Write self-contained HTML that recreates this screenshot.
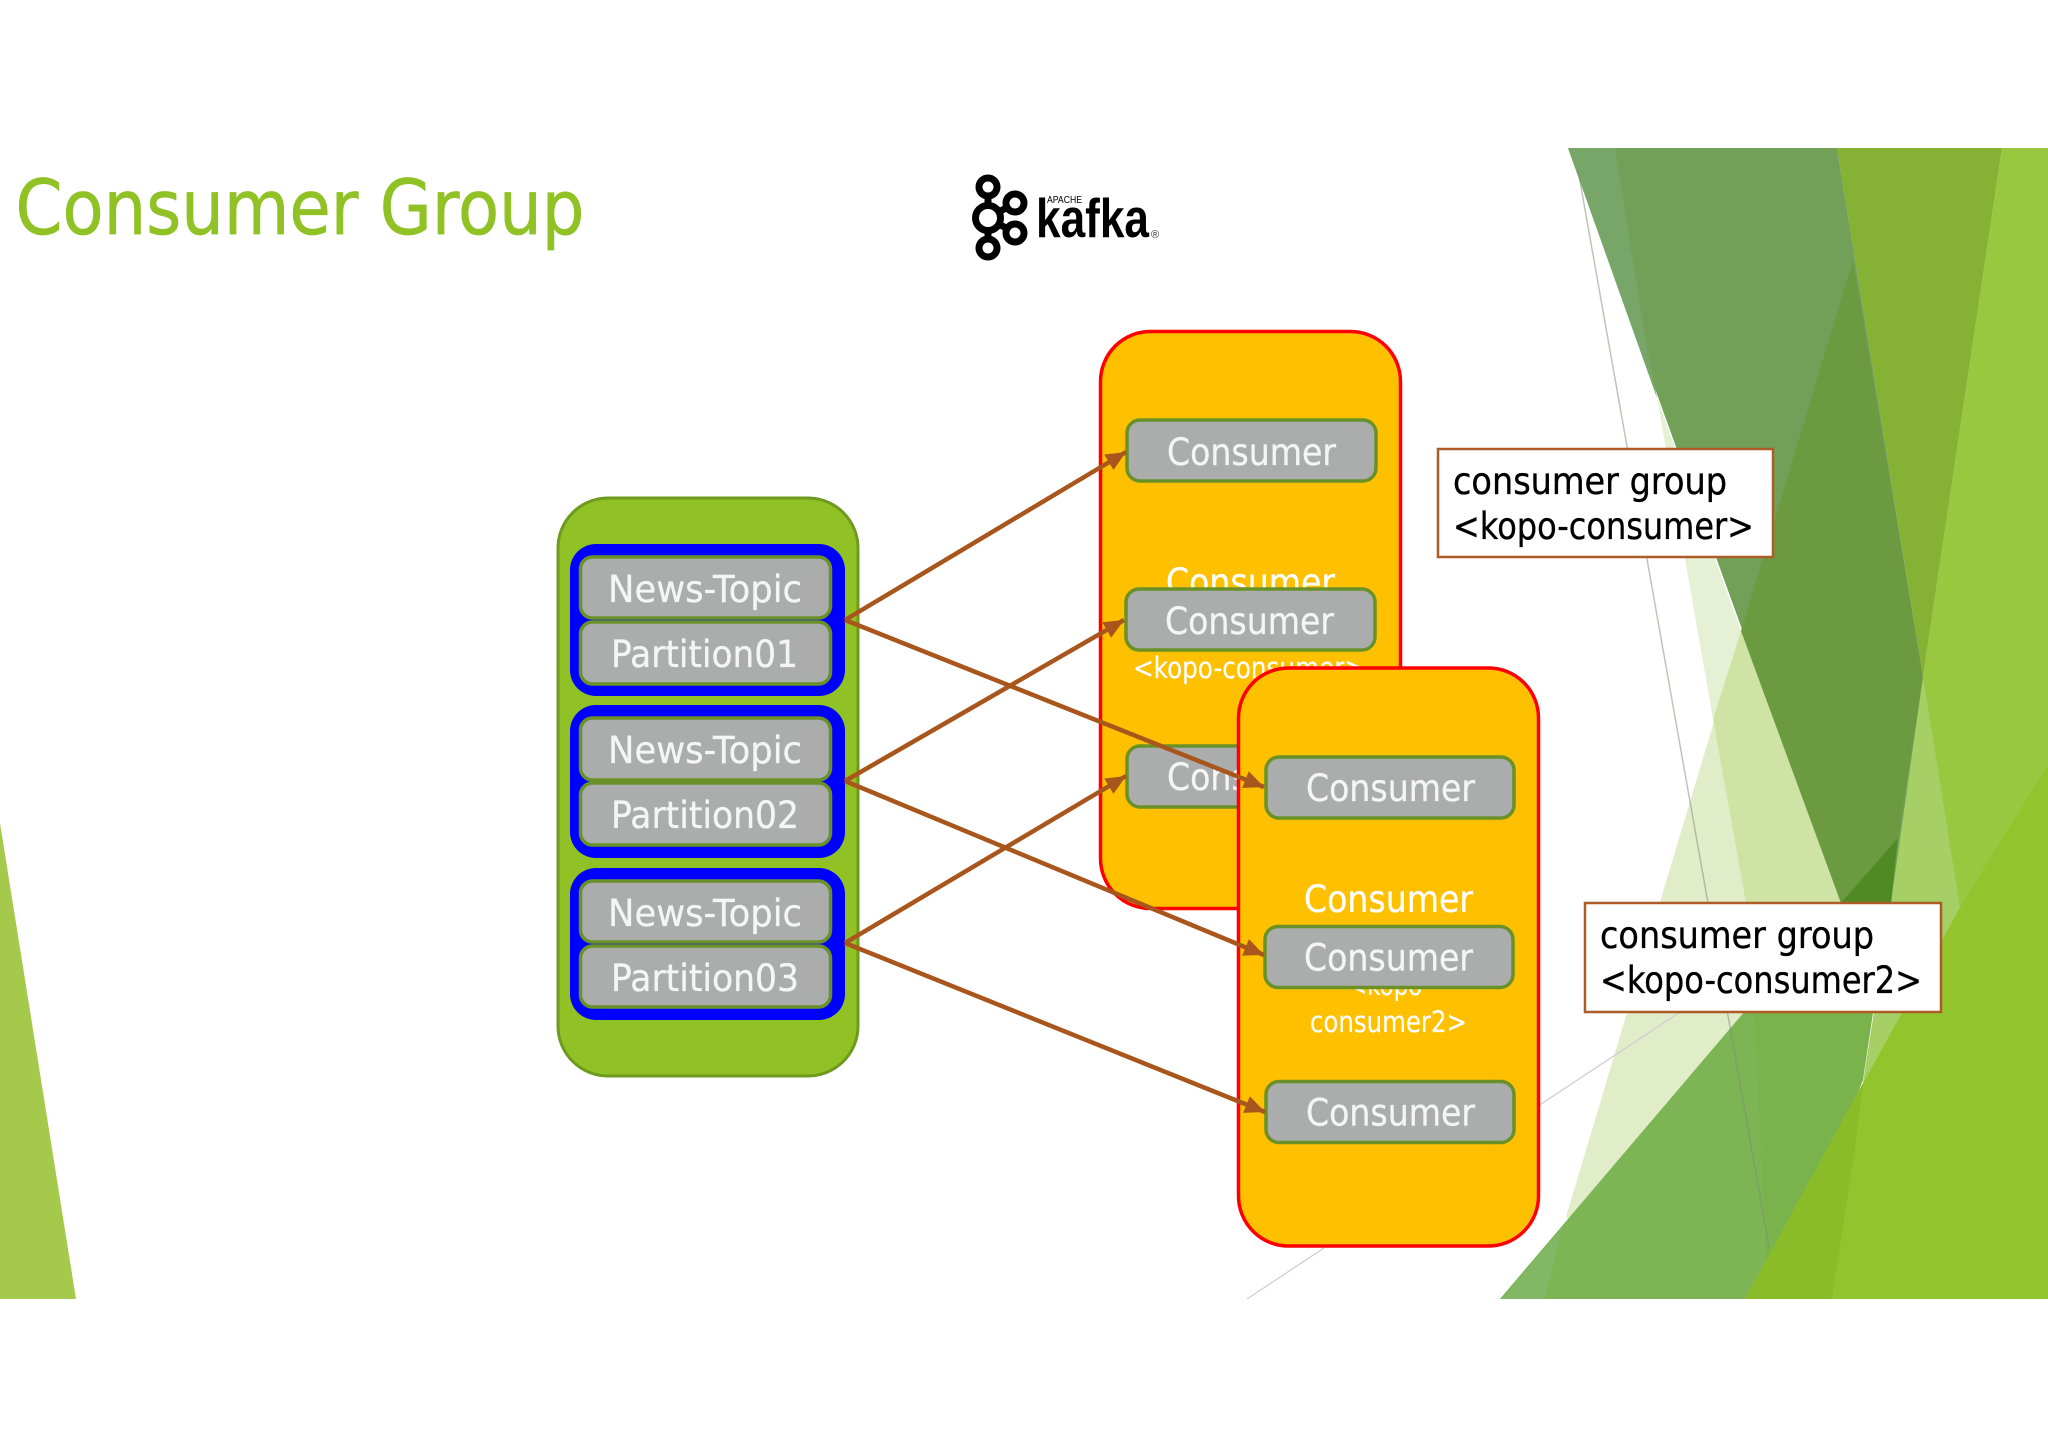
<!DOCTYPE html>
<html>
<head>
<meta charset="utf-8">
<title>Consumer Group</title>
<style>
html,body{margin:0;padding:0;background:#fff;width:2048px;height:1448px;overflow:hidden}
svg{display:block}
text{font-family:"DejaVu Sans","Liberation Sans",sans-serif}
.w{fill:#fff;font-size:37px;stroke:#fff;stroke-width:.3}
.wg{fill:#f4f5f4;font-size:37px;stroke:#f4f5f4;stroke-width:.3}
.s{fill:#fff;font-size:29px;stroke:#fff;stroke-width:.2}
.k{fill:#000;font-size:37px;stroke:#000;stroke-width:.35}
.g{fill:#abacac;stroke:#6a9128;stroke-width:3.5}
.o{fill:#ffc000;stroke:#f00;stroke-width:3.5}
.a{stroke:#a9561d;stroke-width:4.5;fill:none}
.l{fill:#fff;stroke:#ad5c27;stroke-width:2.5}
</style>
</head>
<body>
<svg width="2048" height="1448" viewBox="0 0 2048 1448" xmlns="http://www.w3.org/2000/svg">
<defs>
<marker id="h" markerUnits="userSpaceOnUse" markerWidth="22" markerHeight="20" refX="20" refY="9" orient="auto">
<path d="M0,0 L20,9 L0,18 Z" fill="#a9561d"/>
</marker>
</defs>
<rect width="2048" height="1448" fill="#fff"/>

<!-- background -->
<polygon points="0,823 0,1299 76,1299" fill="#a5c94b"/>
<polygon points="1657,398 1741,631 1713,719" fill="#e6f0d4"/>
<polygon points="1741,631 1848,920 1800,1030 1600,1250 1566,1217" fill="#e1ecc9"/>
<polygon points="1713,719 1741,631 1841,903 1746,903" fill="#cfe4a4"/>
<polygon points="1500,1299 1780,970 1885,970 1873,1013 1863,1080 1775,1299" fill="#7ab24c"/>
<polygon points="1500,1299 1780,970 1752,970 1768,1299" fill="#7db555"/>
<polygon points="1502,1299 1545,1299 1562,1228" fill="#82b865"/>
<polygon points="2002,148 2048,148 2048,780 1960,907 1863,1083 1891,903 1923,677" fill="#97c83f"/>
<polygon points="1745,1299 1863,1083 1960,907 2048,765 2048,1299" fill="#92c42e"/>
<polygon points="1745,1299 1863,1083 1855,1148 1832,1299" fill="#8abc2a"/>
<polygon points="1923,677 1960,907 1863,1083 1891,903" fill="#a6cf66"/>
<polygon points="1837,148 2002,148 1923,677" fill="#85b234"/>
<polygon points="1568,148 1837,148 1923,677 1891,903 1841,903" fill="#72a058"/>
<polygon points="1568,148 1615,148 1645,337 1657,398" fill="#78a668"/>
<polygon points="1853,260 1923,677 1898,838 1841,903 1741,631" fill="#6b9a40"/>
<polygon points="1898,838 1841,903 1891,903" fill="#4f8a25"/>
<line x1="1578" y1="170" x2="1769" y2="1247" stroke="#808a78" stroke-opacity=".5" stroke-width="1.5"/>
<line x1="1247" y1="1299" x2="1680" y2="1012" stroke="#cfcfcf" stroke-width="1.3"/>

<!-- title -->
<text x="15.5" y="234" font-size="76" fill="#90c226" stroke="#90c226" stroke-width=".7" textLength="569" lengthAdjust="spacingAndGlyphs">Consumer Group</text>

<!-- kafka logo -->
<g fill="none" stroke="#000" stroke-width="7">
<line x1="988" y1="187" x2="988" y2="248"/>
<line x1="988" y1="218" x2="1015" y2="203"/>
<line x1="988" y1="218" x2="1015" y2="233"/>
<circle cx="988" cy="187" r="9" fill="#fff"/>
<circle cx="988" cy="218" r="12.5" fill="#fff"/>
<circle cx="1015" cy="203" r="9" fill="#fff"/>
<circle cx="1015" cy="233" r="9" fill="#fff"/>
<circle cx="988" cy="248" r="9" fill="#fff"/>
</g>
<text x="1036" y="237" style="font-family:'Liberation Sans',sans-serif;font-weight:700" font-size="55" fill="#000" textLength="113" lengthAdjust="spacingAndGlyphs">kafka</text>
<text x="1047" y="203" style="font-family:'Liberation Sans',sans-serif" font-size="10" fill="#000" textLength="35" lengthAdjust="spacingAndGlyphs">APACHE</text>
<text x="1151" y="238" style="font-family:'Liberation Sans',sans-serif" font-size="11" fill="#333">®</text>

<!-- topic box -->
<rect x="558" y="498" width="300" height="578" rx="50" ry="50" fill="#90c226" stroke="#6f9a20" stroke-width="3"/>

<rect x="570" y="544" width="275" height="152" rx="26" fill="#0000ff"/>
<rect x="570" y="705" width="275" height="153" rx="26" fill="#0000ff"/>
<rect x="570" y="868" width="275" height="152" rx="26" fill="#0000ff"/>

<rect class="g" x="580.5" y="557" width="250" height="61" rx="12"/>
<rect class="g" x="580.5" y="622" width="250" height="62" rx="12"/>
<rect class="g" x="580.5" y="718" width="250" height="62" rx="12"/>
<rect class="g" x="580.5" y="783" width="250" height="62" rx="12"/>
<rect class="g" x="580.5" y="881" width="250" height="61" rx="12"/>
<rect class="g" x="580.5" y="946" width="250" height="61" rx="12"/>

<text class="wg" x="608" y="602" textLength="194" lengthAdjust="spacingAndGlyphs">News-Topic</text>
<text class="wg" x="611" y="667" textLength="187" lengthAdjust="spacingAndGlyphs">Partition01</text>
<text class="wg" x="608" y="763" textLength="194" lengthAdjust="spacingAndGlyphs">News-Topic</text>
<text class="wg" x="611" y="828" textLength="188" lengthAdjust="spacingAndGlyphs">Partition02</text>
<text class="wg" x="608" y="926" textLength="194" lengthAdjust="spacingAndGlyphs">News-Topic</text>
<text class="wg" x="611" y="991" textLength="188" lengthAdjust="spacingAndGlyphs">Partition03</text>

<!-- group 1 -->
<rect class="o" x="1100.5" y="331.5" width="300" height="577" rx="50" ry="50"/>
<text class="w" x="1166" y="595" textLength="169" lengthAdjust="spacingAndGlyphs">Consumer</text>
<text class="s" x="1133" y="678" textLength="232" lengthAdjust="spacingAndGlyphs">&lt;kopo-consumer&gt;</text>
<rect class="g" x="1127" y="420" width="249" height="61" rx="13"/>
<text class="wg" x="1167" y="465" textLength="169" lengthAdjust="spacingAndGlyphs">Consumer</text>
<rect class="g" x="1126" y="589" width="249" height="61" rx="13"/>
<text class="wg" x="1165" y="634" textLength="169" lengthAdjust="spacingAndGlyphs">Consumer</text>
<rect class="g" x="1127" y="746" width="249" height="61" rx="13"/>
<text class="wg" x="1167" y="790" textLength="169" lengthAdjust="spacingAndGlyphs">Consumer</text>

<!-- group 2 -->
<rect class="o" x="1238.5" y="668" width="300" height="578" rx="50" ry="50"/>
<text class="w" x="1304" y="912" textLength="169" lengthAdjust="spacingAndGlyphs">Consumer</text>
<text class="s" x="1348" y="995" textLength="83" lengthAdjust="spacingAndGlyphs">&lt;kopo-</text>
<text class="s" x="1310" y="1032" textLength="157" lengthAdjust="spacingAndGlyphs">consumer2&gt;</text>
<rect class="g" x="1266" y="757" width="248" height="61" rx="13"/>
<text class="wg" x="1306" y="801" textLength="169" lengthAdjust="spacingAndGlyphs">Consumer</text>
<rect class="g" x="1265" y="926.5" width="248" height="61" rx="13"/>
<text class="wg" x="1304" y="970.5" textLength="169" lengthAdjust="spacingAndGlyphs">Consumer</text>
<rect class="g" x="1266" y="1081.5" width="248" height="61" rx="13"/>
<text class="wg" x="1306" y="1125.5" textLength="169" lengthAdjust="spacingAndGlyphs">Consumer</text>

<!-- arrows -->
<line class="a" x1="845" y1="620" x2="1126" y2="452" marker-end="url(#h)"/>
<line class="a" x1="845" y1="620" x2="1264" y2="787" marker-end="url(#h)"/>
<line class="a" x1="845" y1="781" x2="1124" y2="620" marker-end="url(#h)"/>
<line class="a" x1="845" y1="781" x2="1264" y2="955" marker-end="url(#h)"/>
<line class="a" x1="845" y1="943" x2="1126" y2="776" marker-end="url(#h)"/>
<line class="a" x1="845" y1="943" x2="1265" y2="1112" marker-end="url(#h)"/>

<!-- labels -->
<rect class="l" x="1438" y="449" width="335" height="108"/>
<text class="k" x="1453" y="494" textLength="274" lengthAdjust="spacingAndGlyphs">consumer group</text>
<text class="k" x="1453" y="539" textLength="301" lengthAdjust="spacingAndGlyphs">&lt;kopo-consumer&gt;</text>

<rect class="l" x="1585" y="903" width="356" height="109"/>
<text class="k" x="1600" y="948" textLength="274" lengthAdjust="spacingAndGlyphs">consumer group</text>
<text class="k" x="1600" y="993" textLength="322" lengthAdjust="spacingAndGlyphs">&lt;kopo-consumer2&gt;</text>
</svg>
</body>
</html>
